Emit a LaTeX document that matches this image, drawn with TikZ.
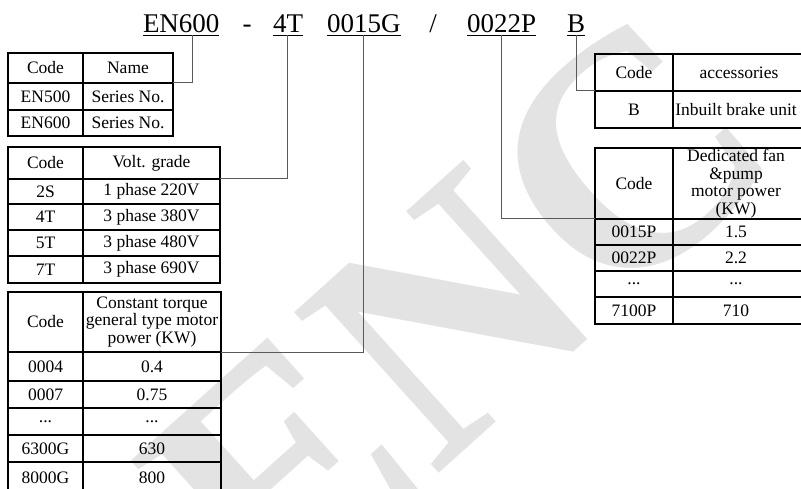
\documentclass[tikz,border=0pt]{standalone}
\usepackage{fontspec}
\setmainfont{Liberation Serif}
\newcommand\tc[6]{\node[cell, minimum width={#4-#2}, minimum height={#5-#3}] (#1) at (#2,#3) {#6};}
\begin{document}
\begin{tikzpicture}[x=1pt,y=-1pt,
  cell/.style={draw=black, line width=1.6pt, inner sep=0pt, outer sep=0pt, anchor=north west, align=center, font=\fontsize{17.5}{17.5}\selectfont},
  tok/.style={font=\fontsize{27}{27}\selectfont, inner xsep=0pt, inner ysep=2.5pt, text depth=0pt, anchor=base west, outer sep=0pt},
  uline/.style={line width=1pt},
  conn/.style={draw=black!65, line width=1pt},
  wmark/.style={text=black!11, font=\bfseries\fontsize{330}{330}\selectfont, rotate=42, inner sep=0pt}
]
\useasboundingbox (0,0) rectangle (801,489);
\clip (0,0) rectangle (801,489);
\fill[white] (0,0) rectangle (801,489);
% watermark
\node[wmark] (wm) at (458,312) {ENC};
% title
\node[tok] (en) at (143,33) {EN600};
\node[tok, anchor=base] (dash) at (247,33) {-};
\node[tok] (vt) at (273,33) {4T};
\node[tok] (pw) at (327,33) {0015G};
\node[tok, anchor=base] (sl) at (433,33) {/};
\node[tok] (pp) at (467,33) {0022P};
\node[tok] (br) at (567,33) {B};
\foreach \t in {en,vt,pw,pp,br} \draw[uline] (\t.south west) -- (\t.south east);
% table 1
\tc{a11}{8}{53}{83}{83}{Code}
\tc{a12}{83}{53}{173}{83}{Name}
\tc{a21}{8}{83}{83}{110}{EN500}
\tc{a22}{83}{83}{173}{110}{Series No.}
\tc{a31}{8}{110}{83}{136}{EN600}
\tc{a32}{83}{110}{173}{136}{Series No.}
% table 2
\tc{b11}{8}{147}{83}{179}{Code}
\tc{b12}{83}{147}{220}{179}{Volt. grade}
\tc{b21}{8}{179}{83}{204}{2S}
\tc{b22}{83}{179}{220}{204}{1 phase 220V}
\tc{b31}{8}{204}{83}{230}{4T}
\tc{b32}{83}{204}{220}{230}{3 phase 380V}
\tc{b41}{8}{230}{83}{256}{5T}
\tc{b42}{83}{230}{220}{256}{3 phase 480V}
\tc{b51}{8}{256}{83}{283}{7T}
\tc{b52}{83}{256}{220}{283}{3 phase 690V}
% table 3
\tc{c11}{8}{292}{83}{352}{Code}
\tc{c12}{83}{292}{221}{352}{Constant torque\\general type motor\\power (KW)}
\tc{c21}{8}{352}{83}{381}{0004}
\tc{c22}{83}{352}{221}{381}{0.4}
\tc{c31}{8}{381}{83}{408}{0007}
\tc{c32}{83}{381}{221}{408}{0.75}
\tc{c41}{8}{408}{83}{435}{...}
\tc{c42}{83}{408}{221}{435}{...}
\tc{c51}{8}{435}{83}{462}{6300G}
\tc{c52}{83}{435}{221}{462}{630}
\tc{c61}{8}{462}{83}{493}{8000G}
\tc{c62}{83}{462}{221}{493}{800}
% right table 1
\tc{d11}{595}{54}{673}{91}{Code}
\tc{d12}{673}{54}{805}{91}{accessories}
\tc{d21}{595}{91}{673}{128}{B}
\tc{d22}{673}{91}{805}{128}{\hspace*{-6pt}Inbuilt brake unit}
% right table 2
\tc{e11}{595}{148}{673}{219}{Code}
\tc{e12}{673}{148}{805}{219}{\hspace*{-6pt}Dedicated fan\\\hspace*{-6pt}\&pump\\\hspace*{-6pt}motor power\\\hspace*{-6pt}(KW)}
\tc{e21}{595}{219}{673}{245}{0015P}
\tc{e22}{673}{219}{805}{245}{\hspace*{-6pt}1.5}
\tc{e31}{595}{245}{673}{271}{0022P}
\tc{e32}{673}{245}{805}{271}{\hspace*{-6pt}2.2}
\tc{e41}{595}{271}{673}{297}{...}
\tc{e42}{673}{271}{805}{297}{\hspace*{-6pt}...}
\tc{e51}{595}{297}{673}{324}{7100P}
\tc{e52}{673}{297}{805}{324}{\hspace*{-6pt}710}
% connectors
\draw[conn] ([xshift=11pt]en.south) |- (a12.south east);
\draw[conn] (vt.south) |- (b12.south east);
\draw[conn] (pw.south) |- (c12.south east);
\draw[conn] (pp.south) |- (e11.south west);
\draw[conn] (br.south) |- (d11.south west);
\end{tikzpicture}
\end{document}
